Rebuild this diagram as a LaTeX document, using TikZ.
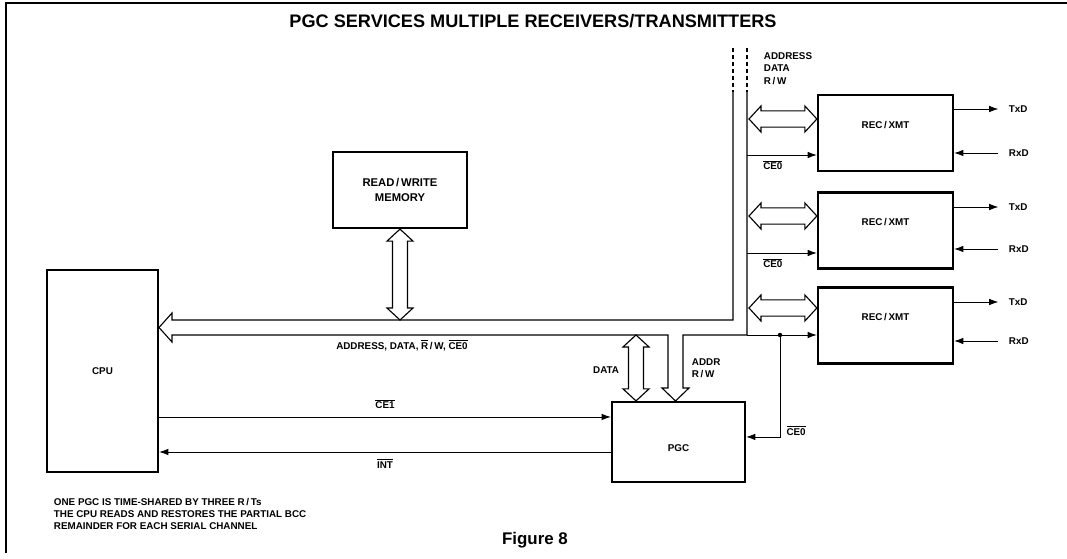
\documentclass[tikz,border=0pt]{standalone}
\usepackage{fontspec}
\setmainfont{Liberation Sans}
\usetikzlibrary{arrows.meta,positioning,calc}

\newcommand{\ovbar}[1]{$\overline{\mbox{#1}}$}
% hollow double-headed bus arrows
\newcommand{\busV}[2]{%
  \draw[hollow] let \p1=#1, \p2=#2 in
    (\x1,\y1) -- (\x1+9.25pt,\y1-8.5pt) -- (\x1+5.3pt,\y1-8.5pt)
    -- (\x1+5.3pt,\y2+8.5pt) -- (\x1+9.25pt,\y2+8.5pt) -- (\x1,\y2)
    -- (\x1-9.25pt,\y2+8.5pt) -- (\x1-5.3pt,\y2+8.5pt)
    -- (\x1-5.3pt,\y1-8.5pt) -- (\x1-9.25pt,\y1-8.5pt) -- cycle;}
\newcommand{\busH}[2]{%
  \draw[hollow] let \p1=#1, \p2=#2 in
    (\x1,\y1) -- (\x1+8.5pt,\y1+9.25pt) -- (\x1+8.5pt,\y1+5.8pt)
    -- (\x2-8.5pt,\y1+5.8pt) -- (\x2-8.5pt,\y1+9.25pt) -- (\x2,\y1)
    -- (\x2-8.5pt,\y1-9.25pt) -- (\x2-8.5pt,\y1-5.8pt)
    -- (\x1+8.5pt,\y1-5.8pt) -- (\x1+8.5pt,\y1-9.25pt) -- cycle;}

\begin{document}
\begin{tikzpicture}[
  x=0.025cm, y=-0.025cm,
  font=\fontsize{7}{8.6}\selectfont\bfseries,
  box/.style={rectangle, draw, line width=1.6pt, align=center},
  hollow/.style={line width=0.8pt},
  wire/.style={line width=0.6pt},
  arrow/.style={wire, -{Latex[length=6.5pt,width=4.6pt]}}
]
\useasboundingbox (0,0) rectangle (1067,559);
\draw[line width=0.9pt] (6,553) -- (6,3) -- (1067,3);

\node[font=\fontsize{12.9}{15}\selectfont\bfseries] (title) at (533,21) {PGC SERVICES MULTIPLE RECEIVERS/TRANSMITTERS};

% CPU, memory and PGC
\node[box, minimum width=2.775cm, minimum height=5.05cm] (cpu) at (102.5,371) {CPU};
\node[box, minimum width=3.35cm, minimum height=1.9cm, font=\fontsize{8}{10}\selectfont\bfseries] (mem) at (400,190) {READ\,/\,WRITE\\MEMORY};
\node[box, minimum width=3.325cm, minimum height=2cm, label={[yshift=-4.5pt]center:PGC}] (pgc) at (678.5,442) {};

% Receiver/transmitters
\foreach \r/\yy in {rec1/133, rec2/230.5, rec3/325.5}
  \node[box, minimum width=3.375cm, minimum height=1.9cm, label={[yshift=5.7pt]center:REC\,/\,XMT}] (\r) at (885.5,\yy) {};

% System bus
\coordinate (busL) at (733,320);
\coordinate (busR) at (747,335);
\draw[hollow] (733,92) -- (busL) -- (172,320) -- (172,313) -- (159,327.5) -- (172,342) -- (172,335)
  -- (668,335) -- (668,388) -- (662,388) -- (675.5,401) -- (689,388) -- (683,388) -- (683,335)
  -- (busR) -- (747,92);
\draw[hollow, dash pattern=on 3pt off 2pt] (733,48) -- (733,92) (747,48) -- (747,92);
\node (buslbl) at (402,345) {ADDRESS, DATA, \ovbar{R}\,/\,W, \ovbar{CE0}};
\node[anchor=north west, align=left] (extlbl) at (759,48) {ADDRESS\\DATA\\R\,/\,W};

\busV{(mem.south)}{(mem.south |- busL)}

\coordinate (dataT) at (636,335);
\busV{(dataT)}{(dataT |- pgc.north)}
\node[anchor=east] (datalbl) at (624,370) {DATA};
\node[anchor=west, align=left] (addrlbl) at (687,368) {ADDR\\R\,/\,W};

% Bus taps to each R/T
\foreach \r/\ya in {rec1/119, rec2/216, rec3/308} {
  \coordinate (\r-bus) at (749,\ya);
  \busH{(\r-bus)}{(\r-bus -| \r.west)}
}
\foreach \r/\yc in {rec1/155, rec2/253} {
  \coordinate (\r-ce) at (747,\yc);
  \draw[arrow] (\r-ce) -- node[below=0pt, pos=0.37] {\ovbar{CE0}} (\r-ce -| \r.west);
}
\draw[arrow] (busR) -- (busR -| rec3.west);

% Serial lines
\foreach \r/\yt/\yr in {rec1/109/153, rec2/207/249, rec3/302/341} {
  \node[anchor=west] (\r-txd) at (1004,\yt) {TxD};
  \node[anchor=west] (\r-rxd) at (1004,\yr) {RxD};
  \draw[arrow] (\r-txd.west -| \r.east) -- ([xshift=-4pt]\r-txd.west);
  \draw[arrow] ([xshift=-4pt]\r-rxd.west) -- (\r-rxd.west -| \r.east);
}

% Chip enable and interrupt
\coordinate (tap) at (780,335);
\fill (tap) circle (1.6pt);
\draw[arrow] (tap) |- ([yshift=3.6pt]pgc.east) node[pos=0.47, right=1pt] {\ovbar{CE0}};
\coordinate (ce1) at ([yshift=17.8pt]pgc.west);
\coordinate (int) at ([yshift=-7.1pt]pgc.west);
\draw[arrow] (cpu.east |- ce1) -- node[above=2pt] {\ovbar{CE1}} (ce1);
\draw[arrow] (int) -- node[below=1pt] {\ovbar{INT}} (cpu.east |- int);

\node[anchor=north west, align=left] (note) at (49,493) {ONE PGC IS TIME-SHARED BY THREE R\,/\,Ts\\THE CPU READS AND RESTORES THE PARTIAL BCC\\REMAINDER FOR EACH SERIAL CHANNEL};
\node[font=\fontsize{12}{14}\selectfont\bfseries] (fig) at (535,540) {Figure 8};

\end{tikzpicture}
\end{document}
